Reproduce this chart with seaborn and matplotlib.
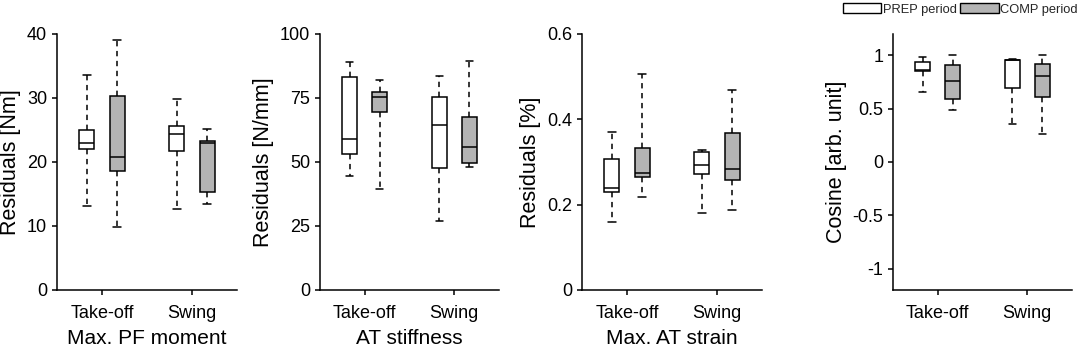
import numpy as np
import pandas as pd
import matplotlib
matplotlib.use("Agg")
import matplotlib.pyplot as plt
from matplotlib.patches import Patch
import seaborn as sns

# ---- data: five-number summaries [min, q1, median, q3, max] per phase ----
phases = ["Take-off", "Swing"]
periods = ["PREP period", "COMP period"]

pf_prep = [[13.2, 22.0, 23.0, 25.0, 33.6], [12.7, 21.7, 24.3, 25.7, 29.8]]
pf_comp = [[9.9, 18.6, 20.8, 30.3, 39.0], [13.5, 15.3, 23.0, 23.3, 25.1]]

st_prep = [[44.4, 53.1, 59.0, 83.2, 89.1], [27.1, 47.6, 64.5, 75.3, 83.5]]
st_comp = [[39.3, 69.5, 75.5, 77.3, 82.2], [48.2, 49.6, 56.0, 67.7, 89.6]]

sn_prep = [[0.160, 0.230, 0.239, 0.306, 0.370], [0.180, 0.272, 0.293, 0.323, 0.329]]
sn_comp = [[0.217, 0.264, 0.274, 0.332, 0.507], [0.187, 0.257, 0.284, 0.369, 0.468]]

cs_prep = [[0.657, 0.849, 0.862, 0.937, 0.984], [0.358, 0.698, 0.953, 0.960, 0.965]]
cs_comp = [[0.484, 0.588, 0.761, 0.909, 1.000], [0.264, 0.613, 0.802, 0.921, 1.000]]

xlabels = ["Max. PF moment", "AT stiffness", "Max. AT strain", ""]
ylabels = ["Residuals [Nm]", "Residuals [N/mm]", "Residuals [%]", "Cosine [arb. unit]"]
yticks = [[0, 10, 20, 30, 40], [0, 25, 50, 75, 100], [0, 0.2, 0.4, 0.6],
          [-1, -0.5, 0, 0.5, 1]]
yticklabels = [["0", "10", "20", "30", "40"], ["0", "25", "50", "75", "100"],
               ["0", "0.2", "0.4", "0.6"], ["-1", "-0.5", "0", "0.5", "1"]]
ylims = [(0, 40), (0, 100), (0, 0.6), (-1.2, 1.2)]
panels = [(pf_prep, pf_comp), (st_prep, st_comp), (sn_prep, sn_comp), (cs_prep, cs_comp)]

# ---- style ----
sns.set_style("ticks")
plt.rcParams["font.family"] = ["Liberation Sans", "DejaVu Sans"]
plt.rcParams["axes.linewidth"] = 1.1
plt.rcParams["xtick.major.width"] = 1.1
plt.rcParams["ytick.major.width"] = 1.1
plt.rcParams["xtick.major.size"] = 3.6
plt.rcParams["ytick.major.size"] = 3.6
plt.rcParams["xtick.color"] = "black"
plt.rcParams["ytick.color"] = "black"
plt.rcParams["axes.edgecolor"] = "black"

palette = {"PREP period": "white", "COMP period": "#b4b4b4"}

fig = plt.figure(figsize=(10.84, 3.49), dpi=100)
lefts = [57, 320, 582, 893]
widths = [180, 179, 180, 179]

for i, (prep, comp) in enumerate(panels):
    ax = fig.add_axes([lefts[i] / 1084, 59 / 349, widths[i] / 1084, 256 / 349])
    rows = []
    for j, ph in enumerate(phases):
        for v in prep[j]:
            rows.append((ph, periods[0], v))
        for v in comp[j]:
            rows.append((ph, periods[1], v))
    df = pd.DataFrame(rows, columns=["phase", "period", "value"])
    sns.boxplot(data=df, x="phase", y="value", hue="period", order=phases,
                hue_order=periods, palette=palette, whis=(0, 100), width=0.667,
                gap=0.5, linecolor="black", linewidth=1.1, legend=False, ax=ax,
                showfliers=False,
                whiskerprops=dict(linestyle=(0, (3.5, 3)), color="black"),
                capprops=dict(color="black"),
                medianprops=dict(color="black"),
                capwidths=0.08)
    ax.set_xlim(-0.5, 1.5)
    ax.set_ylim(*ylims[i])
    ax.set_yticks(yticks[i])
    ax.set_yticklabels(yticklabels[i])
    ax.tick_params(labelsize=13, colors="black")
    ax.tick_params(axis="x", pad=7.5)
    ax.set_xlabel(xlabels[i], fontsize=15, color="black", labelpad=4.5)
    ax.set_ylabel(ylabels[i], fontsize=15.5, color="black")
    sns.despine(ax=ax)

handles = [Patch(facecolor="white", edgecolor="black", linewidth=1.0),
           Patch(facecolor="#b4b4b4", edgecolor="black", linewidth=1.0)]
fig.legend(handles, periods, loc="center left", ncol=2,
           bbox_to_anchor=(843 / 1084, 1 - 9.2 / 349), frameon=False,
           fontsize=9.3, handlelength=2.95, handleheight=0.85,
           handletextpad=0.12, columnspacing=0.3, borderpad=0, borderaxespad=0)

fig.savefig("out.png", dpi=100)
